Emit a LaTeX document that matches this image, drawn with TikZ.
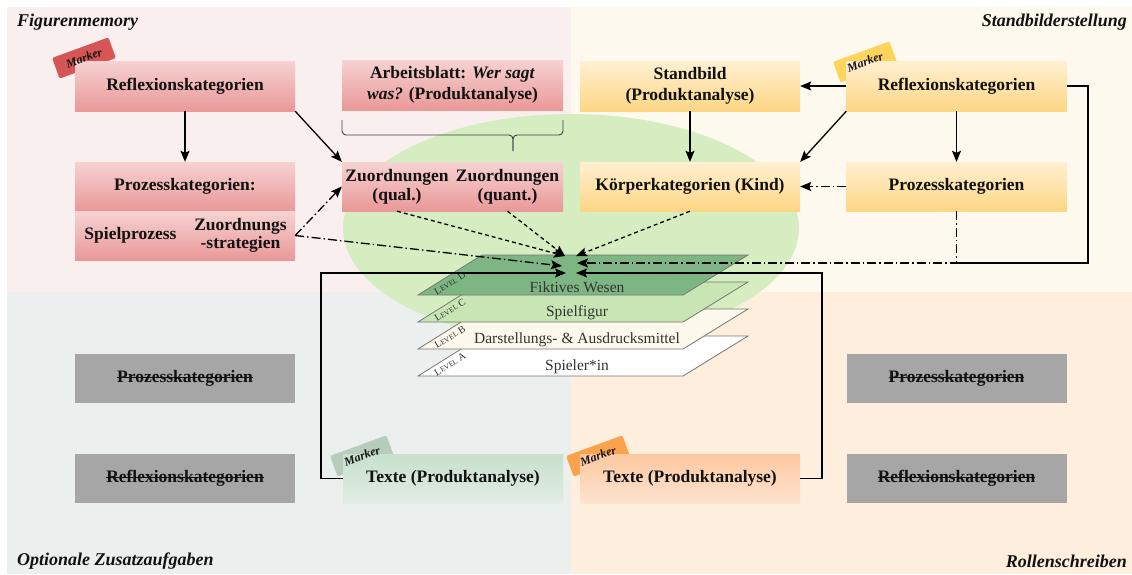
\documentclass[tikz,border=0pt]{standalone}
\usepackage{fontspec}
\setmainfont{Liberation Serif}
\usetikzlibrary{arrows.meta,calc}
\newsavebox{\strkbox}
\newcommand{\strk}[1]{\sbox\strkbox{#1}\rlap{\rule[0.27em]{\wd\strkbox}{1.2pt}}\usebox\strkbox}
\definecolor{bgTL}{RGB}{249,239,239}
\definecolor{bgTR}{RGB}{254,249,238}
\definecolor{bgBL}{RGB}{235,239,237}
\definecolor{bgBR}{RGB}{253,238,221}
\definecolor{ellG}{RGB}{213,237,192}
\definecolor{pinkT}{RGB}{246,210,210}
\definecolor{pinkB}{RGB}{234,152,152}
\definecolor{yelT}{RGB}{255,240,210}
\definecolor{yelB}{RGB}{253,214,132}
\definecolor{grnT}{RGB}{200,224,205}
\definecolor{grnB}{RGB}{226,236,228}
\definecolor{orgT}{RGB}{253,200,160}
\definecolor{orgB}{RGB}{253,226,207}
\definecolor{grayBox}{RGB}{166,166,166}
\definecolor{mkRed}{RGB}{214,86,86}
\definecolor{mkYel}{RGB}{255,212,92}
\definecolor{mkGrn}{RGB}{183,204,186}
\definecolor{mkOrg}{RGB}{250,163,76}
\definecolor{lvD}{RGB}{125,182,130}
\definecolor{lvC}{RGB}{200,230,180}
\definecolor{lvB}{RGB}{253,248,236}
\definecolor{lvEdge}{RGB}{120,120,120}
\definecolor{lvText}{RGB}{50,50,50}
\definecolor{txt}{RGB}{17,17,17}
\newcommand{\lvlabel}[1]{L{\fontsize{7.5}{8}\selectfont EVEL} #1}
\tikzset{
  box/.style={minimum width=220pt, minimum height=50pt, inner sep=0pt, align=center,
    font=\bfseries\fontsize{17.5}{21}\selectfont, text=txt},
  pinkbox/.style={box, top color=pinkT, bottom color=pinkB},
  yelbox/.style={box, top color=yelT, bottom color=yelB},
  grnbox/.style={box, top color=grnT, bottom color=grnB},
  orgbox/.style={box, top color=orgT, bottom color=orgB},
  graybox/.style={box, fill=grayBox},
  tagshape/.style={minimum width=60pt, minimum height=22pt, inner sep=0pt, rounded corners=2pt, rotate=20},
  tagtext/.style={inner sep=0pt, rotate=20, font=\bfseries\itshape\fontsize{12}{12}\selectfont, text=txt},
  titletext/.style={font=\bfseries\itshape\fontsize{18}{20}\selectfont, text=txt, inner sep=0pt},
  plane/.style={draw=lvEdge, line width=0.8pt},
  planetext/.style={font=\fontsize{15.5}{15.5}\selectfont, text=lvText, inner sep=0pt},
  lvtext/.style={font=\fontsize{10}{10}\selectfont, text=lvText, rotate=32, inner sep=0pt},
  conn/.style={line width=1.3pt, draw=black},
  arr/.style={conn, -{Stealth[length=11pt,width=9pt,inset=2pt]}},
  dsh/.style={dash pattern=on 4pt off 3pt},
  ddot/.style={dash pattern=on 9pt off 3pt on 1.5pt off 3pt},
}
\begin{document}
\begin{tikzpicture}[x=1pt,y=-1pt]
\useasboundingbox (0,0) rectangle (1132,574);
% quadrants
\fill[bgTL] (7,7) rectangle (571,292);
\fill[bgTR] (571,7) rectangle (1132,292);
\fill[bgBL] (7,292) rectangle (571,574);
\fill[bgBR] (571,292) rectangle (1132,574);
% ellipse
\fill[ellG] (571,228) ellipse [x radius=228pt, y radius=114pt];
% planes
\foreach \yb/\col in {376/white, 349/lvB, 322/lvC, 295/lvD}{
  \filldraw[plane, fill=\col] (418,\yb) -- (683,\yb) -- (748,\yb-40) -- (482,\yb-40) -- cycle;
}
\node[planetext] (pA) at (577,367) {Spieler*in};
\node[planetext] (pB) at (577,340) {Darstellungs- \& Ausdrucksmittel};
\node[planetext] (pC) at (577,313) {Spielfigur};
\node[planetext] (pD) at (577,287) {Fiktives Wesen};
\node[lvtext] (lA) at (450,364) {\lvlabel{A}};
\node[lvtext] (lB) at (450,337) {\lvlabel{B}};
\node[lvtext] (lC) at (450,310) {\lvlabel{C}};
\node[lvtext] (lD) at (450,283) {\lvlabel{D}};
% titles
\node[titletext, anchor=west] (t1) at (17,22) {Figurenmemory};
\node[titletext, anchor=east] (t2) at (1127,22) {Standbilderstellung};
\node[titletext, anchor=west] (t3) at (17,561) {Optionale Zusatzaufgaben};
\node[titletext, anchor=east] (t4) at (1127,561) {Rollenschreiben};
% marker tags (behind boxes)
\node[tagshape, fill=mkRed] (m1) at (84,58) {};
\node[tagshape, fill=mkYel] (m2) at (865,62) {};
\node[tagshape, fill=mkGrn] (m3) at (362,456) {};
\node[tagshape, fill=mkOrg] (m4) at (598,456) {};
% top-left boxes
\node[pinkbox] (rTL) at (185,86) {Reflexionskategorien};
\node[pinkbox, minimum height=49pt] (pTL) at (185,186.5) {Prozesskategorien:};
\node[pinkbox, minimum width=111pt, minimum height=49pt] (spiel) at (130.5,235.5) {Spielprozess};
\node[pinkbox, minimum width=109pt, minimum height=49pt, font=\bfseries\fontsize{17.5}{18.5}\selectfont] (strat) at (240.5,235.5) {Zuordnungs\\-strategien};
\node[pinkbox, minimum width=221pt] (arb) at (452.5,85) {Arbeitsblatt: \textit{Wer sagt}\\\textit{was?} (Produktanalyse)};
\node[pinkbox, minimum width=110pt, minimum height=49pt, font=\bfseries\fontsize{17.5}{19}\selectfont] (qual) at (397,186.5) {Zuordnungen\\(qual.)};
\node[pinkbox, minimum width=111pt, minimum height=49pt, font=\bfseries\fontsize{17.5}{19}\selectfont] (quant) at (507.5,186.5) {Zuordnungen\\(quant.)};
% top-right boxes
\node[yelbox] (stand) at (690,86) {Standbild\\(Produktanalyse)};
\node[yelbox] (rTR) at (956.5,86) {Reflexionskategorien};
\node[yelbox, minimum height=49pt] (koerp) at (690,186.5) {Körperkategorien (Kind)};
\node[yelbox, minimum height=49pt] (pTR) at (956.5,186.5) {Prozesskategorien};
% bottom boxes
\node[graybox, minimum height=49pt] (g1) at (185,378.5) {\strk{Prozesskategorien}};
\node[graybox, minimum height=49pt] (g2) at (185,478.5) {\strk{Reflexionskategorien}};
\node[graybox, minimum height=49pt] (g3) at (956.5,378.5) {\strk{Prozesskategorien}};
\node[graybox, minimum height=49pt] (g4) at (956.5,478.5) {\strk{Reflexionskategorien}};
\node[grnbox, minimum height=49pt] (textG) at (453,478.5) {Texte (Produktanalyse)};
\node[orgbox, minimum height=49pt] (textO) at (690,478.5) {Texte (Produktanalyse)};
% marker texts (on top)
\node[tagtext] (m1t) at (m1.center) {Marker};
\node[tagtext] (m2t) at (m2.center) {Marker};
\node[tagtext] (m3t) at (m3.center) {Marker};
\node[tagtext] (m4t) at (m4.center) {Marker};
% brace
\coordinate (bL) at (342,120);
\coordinate (bR) at (563,120);
\coordinate (bM) at (513,135);
\coordinate (bT) at (513,151);
\draw[line width=0.9pt, draw=black!75, rounded corners=4pt] (bL) |- (bM) -- (bT);
\draw[line width=0.9pt, draw=black!75, rounded corners=4pt] (bR) |- (bM) -- (bT);
% convergence points
\coordinate (L1) at (565,256);
\coordinate (R1) at (576,256);
\coordinate (L2) at (562,266);
\coordinate (R2) at (577,263);
\coordinate (L3) at (566,273);
\coordinate (R3) at (576,273);
\coordinate (c1) at (1088,263);
\coordinate (c2) at (956.5,263);
\coordinate (gl) at (321,478.5);
\coordinate (gr) at (822,478.5);
% connectors
\draw[arr] (rTL.south) -- (pTL.north);
\draw[arr] (rTL.south east) -- (qual.north west);
\draw[arr, ddot] (strat.east) -- (qual.west);
\draw[arr, ddot] (strat.east) -- (L2);
\draw[arr, dsh] (qual.south) -- (L1);
\draw[arr, dsh] (quant.south) -- (L1);
\draw[arr, dsh] (koerp.south) -- (R1);
\draw[arr, ddot] (pTR.south) |- (R2);
\draw[conn] (rTR.east) -| (c1) -- (c2);
\draw[arr] (rTR.west) -- (stand.east);
\draw[arr] (rTR.south west) -- (koerp.north east);
\draw[arr] (rTR.south) -- (pTR.north);
\draw[arr] (stand.south) -- (koerp.north);
\draw[arr, ddot] (pTR.west) -- (koerp.east);
\draw[arr] (textG.west) -- (gl) |- (L3);
\draw[arr] (textO.east) -- (gr) |- (R3);
\end{tikzpicture}
\end{document}
